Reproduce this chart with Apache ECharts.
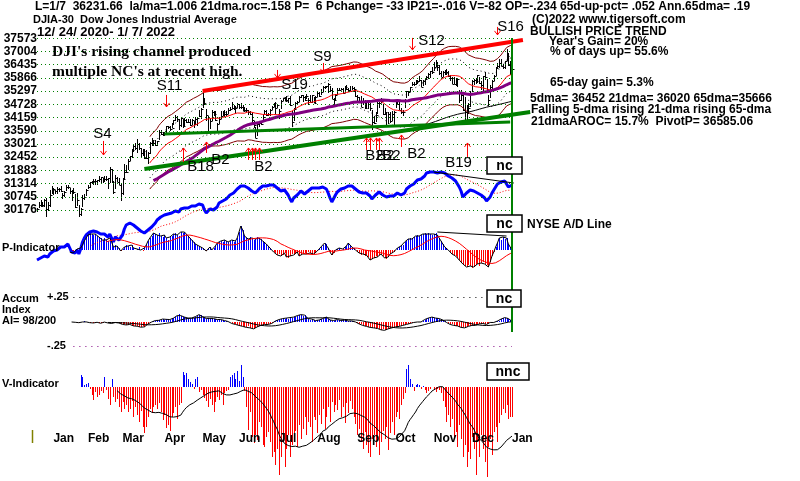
<!DOCTYPE html>
<html><head><meta charset="utf-8">
<script src="https://cdn.jsdelivr.net/npm/echarts@6/dist/echarts.min.js"></script>
<style>html,body{margin:0;padding:0;background:#fff}#c{width:800px;height:481px}</style>
</head><body><div id="c"></div>
<script>
// ---------------- DATA ----------------
const holidays = ['2020-12-25','2021-01-01','2021-01-18','2021-02-15','2021-04-02','2021-05-31','2021-07-05','2021-09-06','2021-11-25','2021-12-24','2022-01-17'];
const tradingDays = 262;   // 12/24/2020 .. 1/7/2022
const futureDays = 10;     // blank room right of the last bar
const monthNames = ['Jan','Feb','Mar','Apr','May','Jun','Jul','Aug','Sep','Oct','Nov','Dec','Jan'];
const priceTicks = [30176,30745,31314,31883,32452,33021,33590,34159,34728,35297,35866,36435,37004,37573];

const closes = [
30200,30404,30335,30409,30606,30223,30392,30829,31041,31098,
31009,31069,31061,30992,30814,30930,31188,31176,30997,30960,
30937,30303,30603,29983,30212,30688,30724,31056,31148,31386,
31375,31438,31431,31458,31523,31613,31494,31494,31522,31537,
31962,31402,30932,31535,31391,31270,30924,31496,31802,31833,
32297,32486,32779,32953,32826,33015,32862,32628,32732,32423,
32420,32619,33072,33171,33067,32982,33153,33527,33430,33446,
33504,33801,33746,33677,33730,34036,34200,34078,33821,34137,
33815,34043,33981,33985,33820,34060,33875,34113,34133,34230,
34548,34778,34742,34270,33587,34021,34382,34328,34061,33896,
34085,34208,34394,34313,34323,34465,34529,34575,34600,34577,
34756,34630,34600,34447,34466,34480,34394,34299,34033,33823,
33290,33877,33945,33874,34196,34434,34283,34292,34503,34634,
34786,34577,34681,34422,34870,34996,34889,34934,34987,34688,
33962,34512,34798,34823,35062,35145,35059,34931,35085,34935,
34838,35116,34793,35065,35209,35102,35265,35485,35500,35515,
35625,35344,34961,34894,35120,35336,35367,35406,35214,35456,
35400,35361,35313,35444,35369,35100,35032,34879,34608,34870,
34578,34814,34751,34584,33970,33920,34258,34765,34798,34870,
34300,34390,33844,34326,34002,34315,34417,34755,34746,34496,
34378,34377,34912,35295,35259,35457,35609,35603,35677,35741,
35757,35491,35731,35820,35913,36053,36158,36124,36328,36432,
36320,36080,35921,36100,36087,36142,35931,35871,35602,35619,
35814,35804,34899,35136,34484,34022,34640,34580,35227,35719,
35755,35754,35971,35651,35545,35928,35898,35365,34932,35493,
35754,35951,36302,36398,36488,36398,36338,36585,36799,36407,
36236,36232];
const highs = [
30241,30526,30600,30525,30637,30674,30504,31023,31193,31140,
31050,31154,31132,31224,30910,31000,31270,31240,31117,31040,
31108,30852,30909,30410,30276,30802,30855,31083,31238,31400,
31430,31530,31496,31460,31643,31614,31565,31633,31625,31564,
32009,31940,31418,31689,31606,31567,31358,31551,32150,32136,
32389,32509,32793,32960,33048,33227,33044,32840,32810,32800,
32746,32658,33100,33259,33206,33175,33167,33617,33640,33541,
33528,33810,33797,33780,33911,34055,34256,34207,34090,34167,
34115,34140,34116,34103,34096,34098,33992,34200,34165,34474,
34564,35200,35000,34547,34210,34135,34480,34455,34440,33920,
34183,34430,34456,34490,34430,34555,34618,34849,34680,34640,
34786,34750,34769,34700,34596,34550,34500,34460,34400,34000,
33770,33900,34000,34020,34300,34470,34480,34360,34530,34660,
34800,34840,34720,34520,34900,35020,35060,35080,35020,35090,
34440,34560,34830,34880,35070,35150,35110,35080,35170,34990,
35110,35130,35050,35080,35240,35240,35390,35510,35510,35530,
35630,35500,35450,35000,35160,35420,35440,35450,35450,35520,
35550,35420,35510,35520,35460,35370,35120,35050,35100,35000,
34920,34840,34830,34780,34480,34230,34400,34810,34830,35000,
34760,34580,34400,34400,34380,34450,34420,34920,34860,34860,
34560,34480,34940,35310,35290,35480,35670,35680,35760,35770,
35950,35790,35760,35840,35960,36080,36180,36320,36560,36620,
36560,36430,36170,36150,36220,36240,36180,36000,35900,35900,
35860,35820,35330,35350,35150,35030,34700,34800,35300,35790,
35800,35880,35990,35900,35720,35960,36120,35800,35150,35540,
35760,35990,36320,36520,36680,36680,36480,36600,37100,36950,
36600,36480];
const lows = [
30107,30283,30300,30340,30300,29881,30141,30317,30869,30829,
30860,30864,30950,30966,30629,30740,30990,31080,30866,30566,
30876,30252,30359,29857,29909,30310,30628,30772,31068,31137,
31310,31260,31241,31245,31398,31298,31337,31395,31424,31099,
31350,31355,30862,31094,31362,31266,30547,30830,31513,31789,
31889,32280,32436,32657,32780,32628,32766,32423,32523,32389,
32390,32165,32600,32931,32950,32950,32940,33200,33390,33380,
33360,33480,33660,33580,33690,33821,34010,33962,33612,33760,
33717,33802,33915,33930,33796,33827,33690,33881,33777,34174,
34115,34579,34690,34000,33570,33650,34010,34218,34030,33473,
33873,34098,34220,34200,34226,34302,34460,34530,34480,34300,
34580,34520,34510,34430,34380,34390,34252,34250,33850,33700,
33271,33350,33770,33850,33950,34250,34230,34230,34240,34500,
34620,34330,34560,34090,34520,34860,34860,34860,34780,34650,
33740,34000,34500,34730,34830,34980,34830,34880,34960,34720,
34800,34780,34770,34800,35030,35050,35120,35280,35380,35430,
35220,35240,34950,34690,34880,35150,35300,35330,35190,35220,
35360,35280,35300,35330,35260,35030,34870,34850,34600,34700,
34540,34530,34540,34440,33610,33880,33960,34330,34580,34790,
34270,34280,33840,33880,33910,34000,33850,34560,34690,34470,
34310,34220,34560,35010,35090,35260,35500,35520,35570,35600,
35700,35480,35500,35570,35760,35840,35880,36040,36180,36330,
36180,35980,35900,35900,36000,36010,35900,35720,35590,35590,
35520,35460,34790,34860,34420,34000,33900,34300,34600,35250,
35580,35620,35650,35620,35330,35200,35780,35240,34650,35000,
35330,35750,35960,36300,36280,36370,36270,36250,36580,36400,
36000,36110];

// NYSE A/D line (relative units)
const adLine = [
5,6,7,8,9,7,8,11,13,14,
13,15,17,18,16,18,20,21,17,13,
14,12,15,11,16,23,27,30,32,33,
33,34,32,33,34,31,30,31,32,28,
31,27,23,28,27,25,24,30,36,40,
41,42,41,40,38,37,35,34,33,32,
32,35,37,38,39,42,45,47,48,49,
50,51,51,50,52,53,54,54,53,56,
55,57,58,57,58,59,58,59,60,61,
62,60,55,52,54,56,57,55,56,58,
62,63,64,65,66,68,70,71,72,74,
76,78,79,80,79,78,77,75,74,73,
72,74,76,78,79,80,79,80,80,81,
80,78,77,75,74,76,75,73,70,66,
63,67,69,70,72,74,73,71,72,74,
75,77,76,77,78,77,78,78,77,76,
72,67,63,65,70,73,75,76,75,77,
78,79,80,79,78,76,75,73,74,72,
71,72,71,69,66,67,70,72,73,73,
70,71,68,70,69,70,69,71,72,70,
70,69,72,76,78,79,80,81,83,85,
86,86,87,89,92,93,93,94,93,93,
92,92,93,93,92,90,89,88,87,85,
84,82,78,74,68,70,72,74,75,75,
74,73,72,72,70,70,67,64,63,68,
72,75,78,81,82,83,83,84,85,78,
79,80];

// P-Indicator (starts at day 18)
const pIndStart = 18;
const pInd = [
-2,-1,-3,-2,1,-1,2,
5,9,12,15,17,
16,15,16,14,13,12,10,12,10,9,
12,8,3,5,4,2,-1,1,3,5,
4,3,5,2,0,1,3,0,-1,2,
5,9,12,14,17,16,15,17,14,13,
15,12,10,13,14,16,17,15,14,18,
17,18,16,14,12,10,8,6,5,4,
3,2,0,-1,1,3,0,2,4,7,
8,9,8,10,9,8,9,10,8,9,
12,18,24,20,14,12,11,13,12,10,
11,13,12,11,9,8,6,4,2,0,
-2,-3,-5,-4,-6,-5,-3,-7,-8,-6,
-4,-5,-3,-2,-6,-5,-4,-3,-4,-2,
-3,-5,-4,-2,-1,1,3,5,7,6,
2,-2,-5,-3,0,1,2,0,1,3,
4,7,5,3,2,0,-2,-3,-5,-4,
-6,-5,-7,-10,-9,-8,-6,-7,-5,-4,
-6,-8,-9,-7,-4,-3,-2,0,2,3,
4,5,8,9,11,12,11,13,14,15,
14,15,16,17,16,17,16,15,16,17,
15,12,9,6,3,1,0,-2,-4,-5,
-6,-8,-10,-12,-14,-16,-17,-15,-16,-18,
-17,-15,-14,-16,-13,-12,-14,-15,-17,-12,
-6,-2,3,7,12,10,13,11,12,6,
3,0];

// Accumulation Index (starts at day 19)
const aiStart = 19;
const accumIdx = [
-0.005,-0.010,-0.008,-0.015,-0.012,-0.010,
-0.005,0.003,-0.004,-0.008,-0.012,
-0.010,-0.015,-0.012,-0.008,-0.014,-0.018,-0.012,-0.006,-0.010,-0.015,
-0.012,-0.020,-0.015,-0.010,-0.008,-0.015,-0.022,-0.030,-0.025,-0.035,
-0.040,-0.030,-0.038,-0.045,-0.050,-0.048,-0.055,-0.058,-0.050,-0.055,
-0.040,-0.025,-0.015,-0.005,0.005,0.010,0.015,0.012,0.020,0.025,
0.018,0.022,0.025,0.020,0.028,0.035,0.045,0.060,0.076,0.060,
0.050,0.045,0.040,0.035,0.030,0.035,0.040,0.050,0.060,0.070,
0.065,0.050,0.040,0.030,0.035,0.030,0.025,0.030,0.028,0.020,
0.025,0.020,0.015,0.010,0.005,0.000,-0.010,-0.020,-0.025,-0.030,
-0.035,-0.040,-0.045,-0.050,-0.055,-0.060,-0.050,-0.065,-0.070,-0.075,
-0.065,-0.055,-0.045,-0.040,-0.035,-0.030,-0.035,-0.030,-0.025,-0.020,
-0.010,0.005,0.015,0.020,0.025,0.030,0.025,0.035,0.030,0.040,
0.035,0.045,0.050,0.060,0.065,0.070,0.060,0.065,0.045,0.030,
0.020,0.025,0.015,0.010,0.020,0.015,0.025,0.030,0.040,0.045,
0.030,0.015,0.005,0.010,0.015,0.020,0.015,0.010,0.020,0.015,
0.010,0.005,0.010,0.005,0.000,-0.005,-0.015,-0.025,-0.030,-0.040,
-0.045,-0.050,-0.055,-0.060,-0.070,-0.065,-0.075,-0.070,-0.080,-0.085,
-0.080,-0.090,-0.085,-0.075,-0.070,-0.065,-0.060,-0.055,-0.060,-0.050,
-0.045,-0.040,-0.035,-0.030,-0.025,-0.020,-0.015,-0.010,-0.008,-0.005,
-0.010,-0.005,0.010,0.020,0.030,0.035,0.040,0.045,0.040,0.035,
0.040,0.030,0.025,0.015,0.005,-0.010,-0.020,-0.030,-0.025,-0.040,
-0.050,-0.045,-0.055,-0.060,-0.058,-0.065,-0.060,-0.050,-0.045,-0.040,
-0.035,-0.040,-0.030,-0.025,-0.030,-0.020,-0.025,-0.030,-0.020,-0.010,
-0.005,-0.010,-0.005,0.005,0.010,0.025,0.035,0.040,0.038,0.030,
0.012,0.002];

// V-Indicator (starts at day 24)
const vIndStart = 24;
const vInd = [
12,10,2,3,4,-2,
-8,-13,-5,-10,-8,-4,-6,10,-3,-12,
-18,8,-10,-15,-12,-20,-25,-15,-22,-18,
-25,-22,-14,-30,-20,-28,-35,-24,-40,-46,
-40,-30,-22,-26,-20,-18,-22,-16,-25,-33,
-28,-41,-38,-44,-30,-26,-20,-32,-18,-16,
15,12,14,8,5,3,-2,8,10,-5,
-3,-8,-11,-14,-20,-12,-18,-25,-15,-10,
-13,-8,-18,-6,-4,-3,10,12,14,8,
16,6,22,10,-4,-20,-43,-25,-50,-56,
-48,-53,-35,-40,-58,-60,-50,-45,-55,-70,
-65,-78,-62,-88,-70,-55,-80,-62,-48,-70,
-58,-50,-44,-60,-38,-52,-42,-30,-48,-35,
-40,-55,-30,-33,-46,-28,-37,-22,-42,-30,
-20,-35,-15,-25,-18,-23,-13,-30,-20,-36,
-16,-26,-14,-22,-30,-37,-48,-42,-55,-62,
-45,-58,-66,-70,-52,-48,-60,-50,-68,-55,
-44,-52,-40,-63,-46,-35,-48,-30,-25,-32,
-18,-12,-6,18,22,8,3,-4,2,3,
2,-2,1,-3,-6,-4,-2,0,-3,-5,
-2,-3,-6,-14,-20,-35,-28,-40,-32,-50,
-45,-60,-38,-52,-70,-58,-80,-65,-72,-50,
-62,-88,-55,-70,-48,-62,-75,-90,-60,-52,
-68,-45,-40,-55,-36,-28,-22,-26,-18,-32,
-30,-30];

// trend / non-confirmation lines  [dayIndex, value]
const upperChannel = [[91,35306],[267,37504]];
const lowerChannel = [[59,31943],[271,34400]];
const supportLine  = [[70,33452],[260,33969]];
const adNcLine     = [[218,93],[262,82]];
const pNcLine      = [[220,18],[258,14]];

// Buy / sell signals: day index, price at the arrow tip, name
const signalIdx  = [36,71,132,157,206,253,80,93,116,118,120,122,181,183,186,188,200,236];
const signalVal  = [32547,34616,35866,36082,37073,37720,32849,33107,32849,32849,32849,32849,33280,33280,33280,33280,33409,33064];
const signalName = ['S4','S11','S19','S9','S12','S16','B18','B2','B2','B2','B2','B2','B9','B2','B2','B2','B2','B19'];

// ---------------- LAYOUT / STYLE ----------------
const signalLayout = [
 {len:14,lab:[-1,-21]},{len:12,lab:[3,-21]},{len:8,lab:[17,7]},{len:10,lab:[-1,-16]},
 {len:12,lab:[19,-9]},{len:8,lab:[13,-8]},{len:14,lab:[17,19]},{len:11,lab:[14,18]},
 {len:12,lab:null},{len:12,lab:null},{len:12,lab:[8,19]},{len:12,lab:null},
 {len:12,lab:null},{len:12,lab:[4,18]},{len:12,lab:[9,18]},{len:12,lab:[12,18]},
 {len:12,lab:[15,19]},{len:14,lab:[-9,20]}];

const N = tradingDays + futureDays;
const dates = [];
(function(){
  const d = new Date(Date.UTC(2020,11,24));
  while (dates.length < N) {
    const wd = d.getUTCDay(), s = d.toISOString().slice(0,10);
    if (wd !== 0 && wd !== 6 && !holidays.includes(s)) dates.push(s);
    d.setUTCDate(d.getUTCDate()+1);
  }
})();
const monthLabelIdx = [];
for (let i=1;i<tradingDays;i++) if (dates[i].slice(5,7)!==dates[i-1].slice(5,7)) monthLabelIdx.push(Math.min(i+4,tradingDays-1));

const pad = (arr,start)=>{const o=new Array(N).fill(null); arr.forEach((v,k)=>{o[start+k]=v;}); return o;};
const sma = (arr,n)=>arr.map((_,i)=>{ if(i<n-1) return null; let s=0; for(let j=i-n+1;j<=i;j++){ if(arr[j]==null) return null; s+=arr[j]; } return s/n; });
const from = (arr,k)=>arr.map((v,i)=> i<k ? null : v);
const scale = (arr,f)=>arr.map(v=> v==null?null:v*f);

const C = pad(closes,0);
const ma21 = from(sma(C,21),62), ma65 = sma(C,65), ma200 = sma(C,200);
const AD = pad(adLine,0), ADma = from(sma(AD,21),30);
const P = pad(pInd,pIndStart), Pma = sma(P,21);
const AI = pad(accumIdx,aiStart), AIma = sma(AI,21);
const V = pad(vInd,vIndStart), Vma = sma(V,21);

const GREEN='#008000', RED='#ff0000', BLUE='#0000ff', MAROON='#800000', PURPLE='#800080';
const L = 37, R = 800 - (37 + (N-1)*((512-37)/(tradingDays-1)));
const grids = [
  {left:L,right:R,top:38.3,height:171.7},  // 0 price
  {left:L,right:R,top:150,height:115},     // 1 A/D
  {left:L,right:R,top:220,height:60},      // 2 P
  {left:L,right:R,top:297,height:49},      // 3 AI
  {left:L,right:R,top:360,height:120},     // 4 V
  {left:L,right:R,top:432,height:1},       // 5 months
  {left:L,right:R,top:38,height:294}       // 6 overlay
];
const xAxes = grids.map((g,k)=>({gridIndex:k,type:'category',data:dates,boundaryGap:false,show:k===5,z:10,
  axisLine:{show:false},axisTick:{show:false},splitLine:{show:false},
  axisLabel:{show:k===5,margin:0,align:'left',color:'#000',fontWeight:'bold',fontSize:12,fontFamily:'Liberation Sans',
    interval:(i)=>monthLabelIdx.includes(i),formatter:(v,i)=>{const m=monthLabelIdx.indexOf(i);return m>=0?monthNames[m]:'';}}}));
const hid = {show:false};
const yAxes = [
  {gridIndex:0,type:'value',min:priceTicks[0],max:priceTicks[priceTicks.length-1],interval:priceTicks[1]-priceTicks[0],
   axisLine:hid,axisTick:hid,splitLine:hid,
   axisLabel:{margin:0,color:'#000',fontWeight:'bold',fontSize:12,fontFamily:'Liberation Sans',formatter:(v)=>String(Math.round(v))}},
  {gridIndex:1,type:'value',min:0,max:115,show:false},
  {gridIndex:2,type:'value',min:-30,max:30,show:false},
  {gridIndex:3,type:'value',min:-0.25,max:0.25,show:false},
  {gridIndex:4,type:'value',min:-93,max:27,show:false},
  {gridIndex:5,type:'value',min:0,max:1,show:false},
  {gridIndex:6,type:'value',min:0,max:1,show:false}
];
const line = (k,data,color,width,type,extra)=>Object.assign({type:'line',xAxisIndex:k,yAxisIndex:k,data,symbol:'none',showSymbol:false,silent:true,
  lineStyle:{color,width,type:type||'solid'},z:3},extra||{});
const seg = (pts,color,width,type)=>[{coord:[dates[pts[0][0]],pts[0][1]],lineStyle:{color,width,type:type||'solid'}},{coord:[dates[pts[1][0]],pts[1][1]]}];
const ml = (data)=>({symbol:['none','none'],silent:true,label:{show:false},animation:false,data});
// crisp 1px histogram bars
const bars = (k,data)=>({type:'custom',xAxisIndex:k,yAxisIndex:k,silent:true,z:2,clip:false,
  data:data.map((v,i)=>[i,v]).filter(d=>d[1]!=null),encode:{x:0,y:1},
  renderItem:(params,api)=>{
    const i=api.value(0), v=api.value(1), a=api.coord([i,0]), b=api.coord([i,v]);
    const x=Math.round(a[0])+0.5;
    return {type:'line',shape:{x1:x,y1:Math.round(a[1]),x2:x,y2:Math.round(b[1])},style:{stroke:v<0?RED:BLUE,lineWidth:1}};
  }});
const nulls = new Array(N).fill(null);

const series = [
  line(0,nulls,'#000',1,'solid',{z:1,markLine:ml(priceTicks.map(v=>seg([[0,v],[tradingDays-1,v]],GREEN,1,[1,3])))}),
  line(0,scale(ma21,1.035),MAROON,1),
  line(0,scale(ma21,0.965),MAROON,1),
  line(0,scale(ma21,1.02),'#000',1,[1,3]),
  line(0,scale(ma21,0.98),'#000',1,[1,3]),
  {type:'custom',xAxisIndex:0,yAxisIndex:0,silent:true,z:3,clip:false,
   data:closes.map((c,i)=>[i,c,highs[i],lows[i]]),encode:{x:0,y:[1,2,3]},
   renderItem:(params,api)=>{
     const i=api.value(0), h=api.coord([i,api.value(2)]), l=api.coord([i,api.value(3)]), c=api.coord([i,api.value(1)]);
     const x=Math.round(h[0])+0.5, cy=Math.round(c[1])+0.5;
     return {type:'group',children:[
       {type:'line',shape:{x1:x,y1:Math.round(h[1]),x2:x,y2:Math.round(l[1])},style:{stroke:'#000',lineWidth:1}},
       {type:'line',shape:{x1:x,y1:cy,x2:x+2,y2:cy},style:{stroke:'#000',lineWidth:1}}]};
   }},
  line(0,ma21,RED,1),
  line(0,ma200,'#000',1),
  line(0,ma65,PURPLE,3),
  line(0,nulls,'#000',1,'solid',{z:4,markLine:ml([seg(upperChannel,RED,4),seg(lowerChannel,GREEN,4),seg(supportLine,GREEN,3)])}),
  {type:'custom',xAxisIndex:0,yAxisIndex:0,silent:true,z:5,clip:false,
   data:signalIdx.map((d,k)=>[d,signalVal[k],k]),encode:{x:0,y:1},
   renderItem:(params,api)=>{
     const k=api.value(2), p=api.coord([api.value(0),api.value(1)]), lay=signalLayout[k];
     const x=Math.round(p[0])+0.5, t=p[1], sell=signalName[k][0]==='S', s=sell?-1:1;
     const ch=[
       {type:'line',shape:{x1:x,y1:t,x2:x,y2:t+s*lay.len},style:{stroke:RED,lineWidth:1}},
       {type:'polyline',shape:{points:[[x-3,t+s*4],[x,t],[x+3,t+s*4]]},style:{stroke:RED,lineWidth:1,fill:null}}];
     if(lay.lab) ch.push({type:'text',x:x+lay.lab[0],y:t+lay.lab[1],style:{text:signalName[k],fill:'#000',font:'15px "Liberation Sans"',align:'center',verticalAlign:'middle'}});
     return {type:'group',children:ch};
   }},
  line(1,ADma,RED,1,[1,2]),
  line(1,AD,BLUE,3,'solid',{markLine:ml([seg(adNcLine,'#000',1)])}),
  bars(2,P),
  line(2,P,'#000',1),
  line(2,Pma,RED,1,'solid',{markLine:ml([seg(pNcLine,'#000',1)])}),
  bars(3,AI),
  line(3,AI,'#000',1),
  line(3,AIma,'#000',1,'solid',{markLine:ml([seg([[20,0.25],[245,0.25]],'#000',1,[1,5]),seg([[20,-0.25],[tradingDays-1,-0.25]],PURPLE,1,[1,5])])}),
  bars(4,V),
  line(4,Vma,'#000',1),
  line(6,nulls,'#000',1,'solid',{markLine:ml([{xAxis:dates[tradingDays-1],lineStyle:{color:GREEN,width:2,type:'solid'}}])})
];

const T=(text,x,y,size,extra)=>({type:'text',x,y,z:100,silent:true,style:Object.assign({text,fill:'#000',font:'bold '+size+'px "Liberation Sans"',verticalAlign:'middle',align:'left'},extra||{})});
const box=(x,y,w,h,text)=>[{type:'rect',z:100,silent:true,shape:{x,y,width:w,height:h},style:{fill:'#fff',stroke:'#000',lineWidth:1.5}},
  T(text,x+w/2,y+h/2+1,14,{align:'center'})];
const graphic=[
  T('L=1/7  36231.66  la/ma=1.006 21dma.roc=.158 P=  6 Pchange= -33 IP21=-.016 V=-82 OP=-.234 65d-up-pct= .052 Ann.65dma= .19',35,7,12),
  T('DJIA-30  Dow Jones Industrial Average',33,20,11),
  T('12/ 24/ 2020- 1/ 7/ 2022',37,32,13),
  T("DJI's rising channel produced",52,52,15.5,{font:'bold 15.5px "Liberation Serif"'}),
  T("multiple NC's at recent high.",52,72,15.5,{font:'bold 15.5px "Liberation Serif"'}),
  T('(C)2022 www.tigersoft.com',532,20,12),
  T('BULLISH PRICE TREND',530,32,12),
  T("Year's Gain= 20%",549,42,12),
  T('% of days up= 55.6%',550,52,12),
  T('65-day gain= 5.3%',550,83,12),
  T('5dma= 36452 21dma= 36020 65dma=35666',530,99,12),
  T('Falling 5-dma rising 21-dma rising 65-dma',531,110,12),
  T('21dmaAROC= 15.7%  PivotP= 36585.06',531,122,12),
  T('NYSE A/D Line',527,225,12),
  T('P-Indicator',2,248,11),
  T('Accum',2,299,11),T('Index',2,310,11),T('AI= 98/200',2,321,11),
  T('+.25',47,297,11),T('-.25',47,346,11),
  T('V-Indicator',2,384,11),
  {type:'line',z:100,silent:true,shape:{x1:32.5,y1:430,x2:32.5,y2:443},style:{stroke:'#808000',lineWidth:1.5}},
  ...box(487,157,35,17,'nc'),...box(487,215,35,17,'nc'),...box(487,290,34,17,'nc'),...box(487,363,42,17,'nnc')
];

const chart = echarts.init(document.getElementById('c'),null,{renderer:'canvas'});
chart.setOption({animation:false,backgroundColor:'#fff',grid:grids,xAxis:xAxes,yAxis:yAxes,series,graphic});
</script></body></html>
